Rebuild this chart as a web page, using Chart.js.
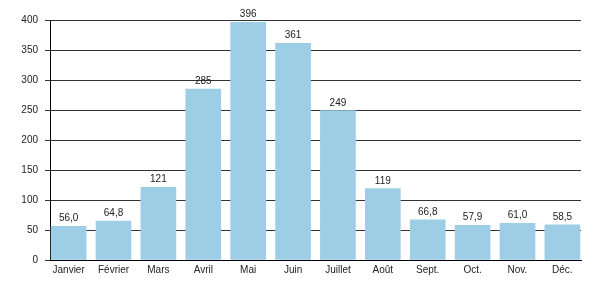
<!DOCTYPE html>
<html>
<head>
<meta charset="utf-8">
<script src="https://cdn.jsdelivr.net/npm/chart.js@4/dist/chart.umd.min.js"></script>
<style>
  body { margin: 0; background: #fff; }
</style>
</head>
<body>
<canvas id="chart" width="600" height="300"></canvas>
<script>
const months = ['Janvier', 'Février', 'Mars', 'Avril', 'Mai', 'Juin', 'Juillet', 'Août', 'Sept.', 'Oct.', 'Nov.', 'Déc.'];
const values = [56.0, 64.8, 121, 285, 396, 361, 249, 119, 66.8, 57.9, 61.0, 58.5];
const yTicks = [0, 50, 100, 150, 200, 250, 300, 350, 400];

const FONT = "'Liberation Sans', Arial, sans-serif";

// french style number: one decimal under 100, integer above
const fmt = (v) => (v >= 100 ? String(Math.round(v)) : v.toFixed(1).replace('.', ','));

const valueLabels = {
  id: 'valueLabels',
  afterDatasetsDraw(chart) {
    const ctx = chart.ctx;
    const meta = chart.getDatasetMeta(0);
    ctx.save();
    ctx.font = '10px ' + FONT;
    ctx.fillStyle = '#222';
    ctx.textAlign = 'center';
    ctx.textBaseline = 'alphabetic';
    meta.data.forEach((bar, i) => {
      ctx.fillText(fmt(values[i]), bar.x, bar.y - 5);
    });
    ctx.restore();
  }
};

new Chart(document.getElementById('chart'), {
  type: 'bar',
  data: {
    datasets: [{
      data: values.map((v, i) => ({ x: i, y: v })),
      backgroundColor: '#9dcee6',
      borderWidth: 0,
      barThickness: 35
    }]
  },
  options: {
    responsive: false,
    animation: false,
    layout: { padding: { top: 20, right: 19, left: 0, bottom: 0 } },
    plugins: { legend: { display: false }, tooltip: { enabled: false } },
    scales: {
      x: {
        type: 'linear',
        offset: false,
        min: -0.415,
        max: 11.415,
        afterBuildTicks: (scale) => {
          scale.ticks = months.map((m, i) => ({ value: i }));
        },
        afterFit: (scale) => { scale.height = 40; },
        grid: { display: false, drawTicks: false, offset: false },
        border: { display: true, color: '#000', width: 1 },
        ticks: {
          autoSkip: false,
          maxRotation: 0,
          padding: 4,
          color: '#222',
          font: { family: FONT, size: 10 },
          callback: (v) => months[v] ?? ''
        }
      },
      y: {
        min: 0,
        max: 400,
        afterBuildTicks: (scale) => {
          scale.ticks = yTicks.map((v) => ({ value: v }));
        },
        afterFit: (scale) => { scale.width = 50; },
        grid: { color: '#333', lineWidth: 1, tickLength: 5 },
        border: { display: true, color: '#000', width: 1 },
        ticks: {
          padding: 7,
          color: '#222',
          font: { family: FONT, size: 10 }
        }
      }
    }
  },
  plugins: [valueLabels]
});
</script>
</body>
</html>
